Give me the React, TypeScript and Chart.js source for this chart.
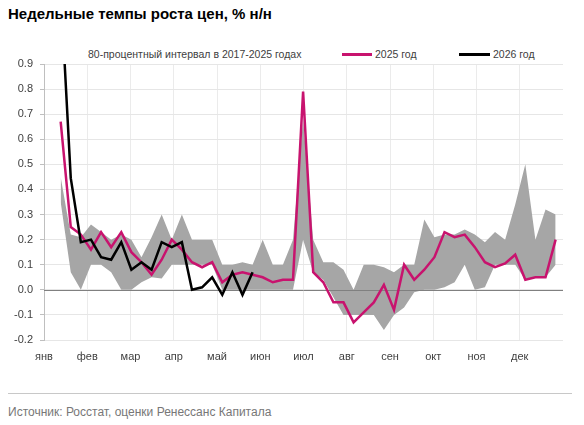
import { useEffect, useRef } from "react";
import { Chart, registerables } from "chart.js";

Chart.register(...registerables);

// month labels on the x axis
const MONTHS = ["янв", "фев", "мар", "апр", "май", "июн", "июл", "авг", "сен", "окт", "ноя", "дек"];

// weekly values, % w/w
const Y2025 = [
  0.67, 0.25, 0.22, 0.16, 0.23, 0.17, 0.23, 0.15, 0.11, 0.06,
  0.12, 0.2, 0.16, 0.11, 0.09, 0.11, 0.03, 0.06, 0.07, 0.06,
  0.05, 0.03, 0.04, 0.04, 0.79, 0.07, 0.03, -0.05, -0.05, -0.13,
  -0.09, -0.05, 0.02, -0.08, 0.1, 0.04, 0.08, 0.13, 0.23, 0.21,
  0.22, 0.17, 0.11, 0.09, 0.105, 0.14, 0.04, 0.05, 0.05, 0.2,
];
const Y2026 = [
  1.2, 0.445, 0.19, 0.2, 0.13, 0.12, 0.19, 0.08, 0.11, 0.08,
  0.19, 0.17, 0.19, 0.0, 0.01, 0.05, -0.02, 0.07, -0.02, 0.07,
];
// 80% interval 2017-2025
const RANGE_HIGH = [
  0.45, 0.22, 0.21, 0.26, 0.23, 0.2, 0.22, 0.2, 0.13, 0.21,
  0.3, 0.2, 0.3, 0.2, 0.2, 0.2, 0.1, 0.1, 0.11, 0.1,
  0.2, 0.1, 0.1, 0.2, 0.68, 0.2, 0.11, 0.11, 0.08, 0.0,
  0.1, 0.1, 0.09, 0.07, 0.1, 0.1, 0.28, 0.21, 0.22, 0.22,
  0.24, 0.22, 0.19, 0.23, 0.2, 0.34, 0.5, 0.2, 0.32, 0.3,
];
const RANGE_LOW = [
  0.35, 0.07, 0.0, 0.1, 0.1, 0.07, 0.0, 0.0, 0.03, 0.05,
  0.045, 0.1, 0.1, 0.1, 0.1, 0.1, 0.0, 0.0, 0.0, 0.0,
  0.0, 0.0, 0.0, 0.0, 0.2, 0.07, 0.04, -0.03, -0.1, -0.1,
  -0.1, -0.1, -0.16, -0.1, -0.07, -0.01, 0.0, 0.0, 0.01, 0.03,
  0.1, 0.0, 0.01, 0.1, 0.1, 0.1, 0.04, 0.05, 0.05, 0.1,
];

const PINK = "#c8136e";
const GRAY = "#a6a6a6";
const TEXT = "#404040";
const FONT = '"Liberation Sans", Arial, sans-serif';

// week index range shown on the x axis (Jan 1 .. Dec 31)
const X_MIN = -1.65;
const X_MAX = 49.73;
const MONTH_STEP = (X_MAX - X_MIN) / 12;

const toXY = (arr: number[]) => arr.map((y, i) => ({ x: i, y }));

export default function App() {
  const canvasRef = useRef<HTMLCanvasElement>(null);

  useEffect(() => {
    if (!canvasRef.current) return;

    // zero line drawn over the grey band but under the lines
    const zeroLine = {
      id: "zeroLine",
      beforeDatasetDraw(chart: any, args: any) {
        if (args.index !== 1) return;
        const { ctx, chartArea, scales } = chart;
        const y = Math.round(scales.y.getPixelForValue(0)) + 0.5;
        ctx.save();
        ctx.strokeStyle = "#808080";
        ctx.lineWidth = 1;
        ctx.beginPath();
        ctx.moveTo(chartArea.left, y);
        ctx.lineTo(chartArea.right, y);
        ctx.stroke();
        ctx.restore();
      },
    };

    const chart = new Chart(canvasRef.current, {
      type: "line",
      data: {
        datasets: [
          {
            label: "2026 год",
            data: toXY(Y2026),
            borderColor: "#000",
            borderWidth: 2.5,
            pointRadius: 0,
            fill: false,
          },
          {
            label: "2025 год",
            data: toXY(Y2025),
            borderColor: PINK,
            borderWidth: 2.5,
            pointRadius: 0,
            fill: false,
          },
          {
            label: "80-процентный интервал в 2017-2025 годах",
            data: toXY(RANGE_HIGH),
            borderColor: "transparent",
            borderWidth: 0,
            backgroundColor: GRAY,
            pointRadius: 0,
            fill: "+1",
          },
          {
            label: "low",
            data: toXY(RANGE_LOW),
            borderColor: "transparent",
            borderWidth: 0,
            pointRadius: 0,
            fill: false,
          },
        ],
      },
      options: {
        responsive: false,
        animation: false,
        layout: { padding: { top: 14, right: 21, left: 0, bottom: 0 } },
        plugins: {
          legend: { display: false },
          tooltip: { enabled: false },
        },
        scales: {
          x: {
            type: "linear",
            min: X_MIN,
            max: X_MAX,
            afterBuildTicks: (scale: any) => {
              scale.ticks = MONTHS.map((_, k) => ({ value: X_MIN + k * MONTH_STEP }));
            },
            afterFit: (scale: any) => {
              scale.height = 35;
            },
            ticks: {
              callback: (_v: any, i: number) => MONTHS[i],
              autoSkip: false,
              maxRotation: 0,
              padding: 10,
              color: TEXT,
              font: { family: FONT, size: 11 },
            },
            grid: { color: "#ebebeb", drawTicks: false },
            border: { display: false },
          },
          y: {
            min: -0.2,
            max: 0.9,
            afterFit: (scale: any) => {
              scale.width = 44;
            },
            ticks: {
              stepSize: 0.1,
              callback: (v: any) => Number(v).toFixed(1),
              padding: 7,
              color: TEXT,
              font: { family: FONT, size: 11 },
            },
            grid: { color: "#e6e6e6", tickLength: 4, tickColor: "#bfbfbf" },
            border: { color: "#bfbfbf" },
          },
        },
      },
      plugins: [zeroLine],
    });

    return () => {
      chart.destroy();
    };
  }, []);

  return (
    <div
      style={{
        position: "fixed",
        left: 0,
        top: 0,
        width: 584,
        height: 425,
        background: "#fff",
        fontFamily: FONT,
        color: TEXT,
      }}
    >
      <div style={{ position: "absolute", left: 8, top: 5, fontSize: 15, fontWeight: "bold", color: "#000" }}>
        Недельные темпы роста цен, % н/н
      </div>

      <div style={{ position: "absolute", left: 0, top: 47, width: 584, height: 14, fontSize: 10.5, lineHeight: "14px" }}>
        <span style={{ position: "absolute", left: 88, top: 0, whiteSpace: "nowrap" }}>
          80-процентный интервал в 2017-2025 годах
        </span>
        <span style={{ position: "absolute", left: 342, top: 6, width: 30, height: 2.5, background: PINK }} />
        <span style={{ position: "absolute", left: 375, top: 0, whiteSpace: "nowrap" }}>2025 год</span>
        <span style={{ position: "absolute", left: 459, top: 6, width: 31, height: 2.5, background: "#000" }} />
        <span style={{ position: "absolute", left: 493, top: 0, whiteSpace: "nowrap" }}>2026 год</span>
      </div>

      <div style={{ position: "absolute", left: 0, top: 50 }}>
        <canvas ref={canvasRef} width={584} height={325} style={{ width: 584, height: 325, display: "block" }} />
      </div>

      <div style={{ position: "absolute", left: 8, top: 393, width: 564, height: 1, background: "#c8c8c8" }} />

      <div style={{ position: "absolute", left: 8, top: 405, fontSize: 12, color: "#777", whiteSpace: "nowrap" }}>
        Источник: Росстат, оценки Ренессанс Капитала
      </div>
    </div>
  );
}
